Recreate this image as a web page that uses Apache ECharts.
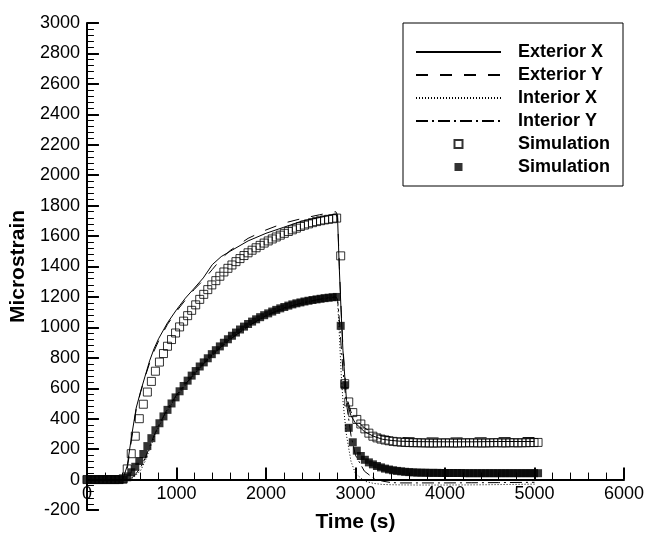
<!DOCTYPE html>
<html>
<head>
<meta charset="utf-8">
<script src="https://cdn.jsdelivr.net/npm/echarts@6/dist/echarts.min.js"></script>
<style>
  html, body { margin: 0; padding: 0; background: #fff; }
  #chart { width: 647px; height: 538px; }
</style>
</head>
<body>
<div id="chart"></div>
<script>
// Measured gauge time base (s)
const gaugeTime = [0,100,200,300,400,450,500,550,600,650,700,750,800,900,1000,1100,1200,1300,1400,1500,1600,1800,2000,2200,2400,2600,2700,2780,2800,2820,2840,2860,2880,2900,2950,3000,3100,3200,3300,3400,3500,3700,4000,4300,4600,5000];

// Measured strains (microstrain)
const exteriorX = [0,0,0,0,0, 90,290,470,580,680,780,860,925, 1030,1115,1192,1258,1325,1412,1465,1500, 1568,1618,1658,1698,1722, 1735,1745,1720,1380,1100,850,680,520, 420,370, 315,285,265,257,252, 249,248,248,250,250];
const exteriorY = [0,0,0,0,0, 70,270,460,575,675,765,845,910, 1020,1105,1180,1250,1310,1380,1450,1505, 1585,1640,1685,1715,1740, 1752,1760,1738,1400,1120,870,700,545, 445,395, 340,305,287,280,276, 274,273,274,275,276];
const interiorX = [0,0,0,0,0, 0,5,30,60,120,200,275,345, 455,545,620,688,755,815,870,920, 1005,1075,1125,1158,1182, 1192,1198,1180,950,700,520,400,290, 120,40, -10,-25,-32,-34,-35, -36,-36,-35,-33,-30];
const interiorY = [0,0,0,0,0, 0,10,40,80,140,215,290,355, 465,555,628,695,760,820,873,922, 1008,1078,1128,1160,1185, 1195,1200,1185,1050,880,720,600,500, 290,160, 55,10,-10,-20,-22, -22,-22,-21,-20,-18];

// Simulation output times (s)
const simTime = [0,45,90,135,180,225,270,315,360,405,450,495,540,585,630,675,720,765,810,855,900,945,990,1035,1080,1125,1170,1215,1260,1305,1350,1395,1440,1485,1530,1575,1620,1665,1710,1755,1800,1845,1890,1935,1980,2025,2070,2115,2160,2205,2250,2295,2340,2385,2430,2475,2520,2565,2610,2655,2700,2745,2790,2835,2880,2925,2970,3015,3060,3105,3150,3195,3240,3285,3330,3375,3420,3465,3510,3555,3600,3645,3690,3735,3780,3825,3870,3915,3960,4005,4050,4095,4140,4185,4230,4275,4320,4365,4410,4455,4500,4545,4590,4635,4680,4725,4770,4815,4860,4905,4950,4995,5040];

// Simulated exterior strain (open squares)
const simExterior = [0,0,0,0,0,0,0,0,0,5,
  70,170,285,400,495,575,645,712,772,828,
  876,920,963,1003,1041,1077,1112,1148,1184,1217,
  1248,1279,1307,1336,1364,1388,1410,1432,1452,1472,
  1490,1507,1523,1539,1554,1568,1581,1594,1606,1618,
  1630,1641,1652,1663,1672,1680,1688,1695,1701,1706,
  1710,1714,1718,
  1470,630,510,440,395,365,333,
  305,285,274,266,260,255,251,248,246,244,
  243,242,242,241,241,240,240,240,241,241,
  241,240,240,241,241,242,241,241,240,241,
  241,242,242,241,241,242,242,241,242,242,243,243,244];

// Simulated interior strain (filled squares)
const simInterior = [0,0,0,0,0,0,0,0,0,0,
  15,48,84,122,168,220,272,324,370,415,
  458,500,540,580,615,650,683,713,743,770,
  797,824,850,875,899,922,945,966,986,1005,
  1022,1038,1053,1067,1080,1092,1104,1115,1125,1134,
  1143,1151,1158,1164,1170,1175,1180,1184,1188,1192,
  1195,1198,1200,
  1010,620,340,245,190,155,130,
  113,100,89,80,72,66,61,57,54,51,
  49,47,46,45,45,44,44,44,43,43,
  43,43,43,43,42,42,42,42,42,42,
  42,42,42,42,42,42,42,42,42,42,42,42,42];

const FONT = 'Liberation Sans, Arial, sans-serif';
const SQUARE_ICON = 'path://M0,0L10,0L10,10L0,10Z';

const X_MIN = 0, X_MAX = 6000, X_STEP = 1000;
const Y_MIN = -200, Y_MAX = 3000, Y_STEP = 200;

// plot area in pixels
const GRID = { left: 86, right: 21, top: 23, bottom: 28 };
const PLOT_H = 538 - GRID.top - GRID.bottom;
// distance from the bottom edge of the plot up to the y = 0 line
const ZERO_LIFT = PLOT_H * (0 - Y_MIN) / (Y_MAX - Y_MIN);

function pairs(xs, ys) {
  return xs.map((x, i) => [x, ys[i]]);
}

function lineSeries(name, values, dash) {
  return {
    name: name,
    type: 'line',
    data: pairs(gaugeTime, values),
    symbol: 'none',
    smooth: false,
    animation: false,
    lineStyle: { color: '#000', width: 1, type: dash },
    itemStyle: { color: '#000' },
    z: 2
  };
}

// legend entry for a line: stroke only, no marker
function lineLegend(name) {
  return { name: name, itemStyle: { color: 'transparent', borderColor: 'transparent', borderWidth: 0 } };
}

const chart = echarts.init(document.getElementById('chart'), null, { renderer: 'canvas' });

const labelStyle = {
  color: '#000', fontFamily: FONT, fontSize: 18,
  formatter: function (v) { return String(v); }
};
const nameStyle = { color: '#000', fontFamily: FONT, fontSize: 21, fontWeight: 'bold' };
const lineStyleAxis = { color: '#000', width: 2 };

chart.setOption({
  backgroundColor: '#fff',
  animation: false,
  grid: Object.assign({ containLabel: false }, GRID),
  xAxis: [
    {
      // line and ticks, drawn along y = 0
      type: 'value',
      min: X_MIN, max: X_MAX, interval: X_STEP,
      axisLine: { show: true, onZero: true, lineStyle: lineStyleAxis },
      axisTick: { show: true, inside: true, length: 12, lineStyle: { color: '#000', width: 2 } },
      minorTick: { show: true, splitNumber: 5, length: 7, lineStyle: { color: '#000', width: 1 } },
      axisLabel: { show: false },
      splitLine: { show: false },
      minorSplitLine: { show: false }
    },
    {
      // tick labels and title, placed just under the y = 0 line
      type: 'value',
      position: 'bottom',
      offset: -ZERO_LIFT,
      min: X_MIN, max: X_MAX, interval: X_STEP,
      axisLine: { show: false, onZero: false },
      axisTick: { show: false },
      minorTick: { show: false },
      splitLine: { show: false },
      axisLabel: Object.assign({}, labelStyle, { margin: 5 }),
      name: 'Time (s)',
      nameLocation: 'middle',
      nameGap: 32,
      nameTextStyle: nameStyle
    }
  ],
  yAxis: {
    type: 'value',
    min: Y_MIN, max: Y_MAX, interval: Y_STEP,
    axisLine: { show: true, lineStyle: lineStyleAxis },
    axisTick: { show: true, inside: true, length: 12, lineStyle: { color: '#000', width: 2 } },
    minorTick: { show: true, splitNumber: 5, length: 7, lineStyle: { color: '#000', width: 1 } },
    splitLine: { show: false },
    minorSplitLine: { show: false },
    axisLabel: Object.assign({}, labelStyle, { margin: 7 }),
    name: 'Microstrain',
    nameLocation: 'middle',
    nameGap: 55,
    nameTextStyle: nameStyle
  },
  graphic: [{
    type: 'rect',
    shape: { x: 403, y: 23, width: 220, height: 163 },
    style: { fill: '#fff', stroke: '#000', lineWidth: 1 },
    z: 50
  }],
  legend: {
    orient: 'vertical',
    left: 415,
    top: 43,
    padding: 0,
    itemWidth: 85,
    itemHeight: 8,
    itemGap: 5,
    z: 60,
    selectedMode: false,
    symbolKeepAspect: true,
    textStyle: { color: '#000', fontFamily: FONT, fontSize: 18, fontWeight: 'bold', lineHeight: 18, padding: [0, 0, 0, 12] },
    data: [
      lineLegend('Exterior X'),
      lineLegend('Exterior Y'),
      lineLegend('Interior X'),
      lineLegend('Interior Y'),
      { name: 'Simulation', icon: SQUARE_ICON },
      { name: 'Simulation ', icon: SQUARE_ICON }
    ]
  },
  series: [
    lineSeries('Exterior X', exteriorX, 'solid'),
    lineSeries('Exterior Y', exteriorY, [12, 12]),
    lineSeries('Interior X', interiorX, [1, 2]),
    lineSeries('Interior Y', interiorY, [12, 4, 2, 4]),
    {
      name: 'Simulation',
      type: 'scatter',
      data: pairs(simTime, simExterior),
      symbol: 'rect',
      symbolSize: 8,
      animation: false,
      itemStyle: { color: 'transparent', borderColor: '#000', borderWidth: 1 },
      z: 3
    },
    {
      name: 'Simulation ',
      type: 'scatter',
      data: pairs(simTime, simInterior),
      symbol: 'rect',
      symbolSize: 8,
      animation: false,
      itemStyle: { color: '#000', borderColor: '#000', borderWidth: 0 },
      z: 4
    }
  ]
});
</script>
</body>
</html>
